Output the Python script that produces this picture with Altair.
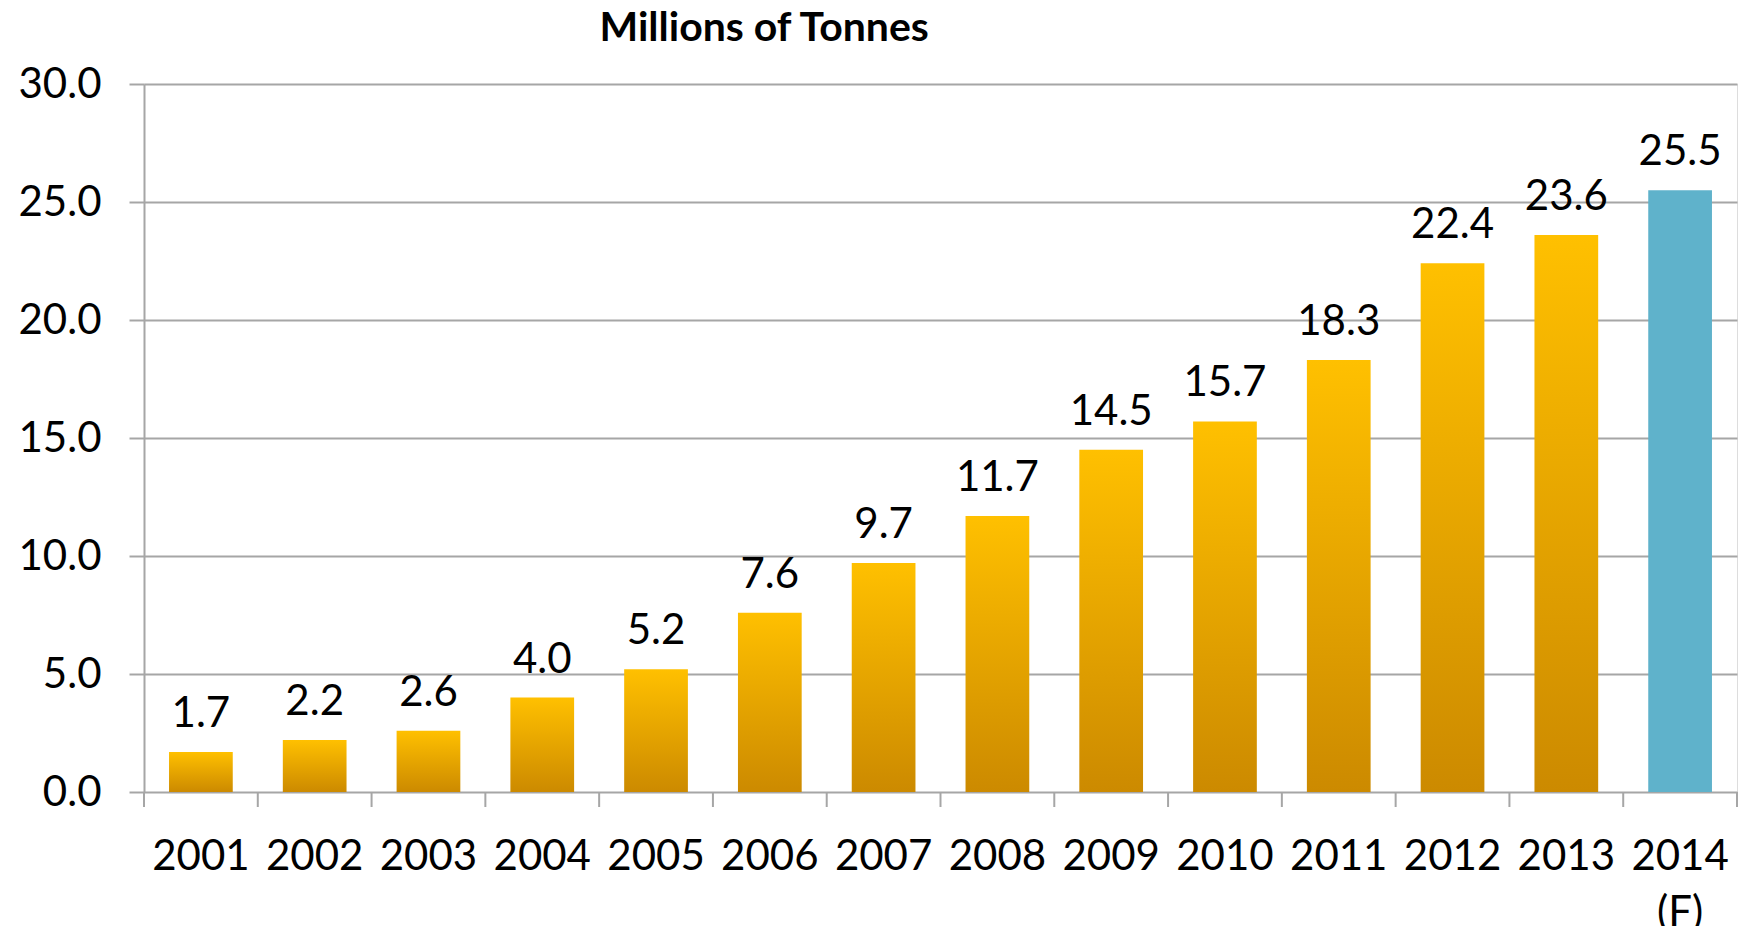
import altair as alt
import pandas as pd

years = ["2001", "2002", "2003", "2004", "2005", "2006", "2007",
         "2008", "2009", "2010", "2011", "2012", "2013", "2014"]
tick_labels = ["2001", "2002", "2003", "2004", "2005", "2006", "2007",
               "2008", "2009", "2010", "2011", "2012", "2013", "2014\n(F)"]
values = [1.7, 2.2, 2.6, 4.0, 5.2, 7.6, 9.7, 11.7, 14.5, 15.7, 18.3, 22.4, 23.6, 25.5]
forecast = [False] * 13 + [True]
y_ticks = [0, 5, 10, 15, 20, 25, 30]
title_text = "Millions of Tonnes"

df = pd.DataFrame({"year": tick_labels, "value": values, "forecast": forecast})
bounds = pd.DataFrame({"b": list(range(len(years) + 1))})

FONT = "Lato"
W, H = 1593, 708
GRID = "#A6A6A6"

gold = alt.Gradient(
    gradient="linear",
    stops=[alt.GradientStop(color="#FFC000", offset=0),
           alt.GradientStop(color="#CC8A00", offset=1)],
    x1=0, x2=0, y1=0, y2=1,
)

x_enc = alt.X(
    "year:N", sort=tick_labels, title=None,
    scale=alt.Scale(paddingInner=0.44, paddingOuter=0.22),
    axis=alt.Axis(labelExpr="split(datum.value, '\\n')", labelAngle=0,
                  labelFont=FONT, labelFontSize=42, labelColor="black",
                  labelPadding=44, labelLineHeight=56,
                  ticks=False, domain=False, grid=False),
)
y_enc = alt.Y(
    "value:Q", title=title_text,
    scale=alt.Scale(domain=[0, 30], nice=False),
    axis=alt.Axis(values=y_ticks, format=".1f", labelFont=FONT, labelFontSize=42,
                  labelColor="black", labelPadding=28, tickSize=15, tickColor=GRID,
                  tickWidth=2, domainColor=GRID, domainWidth=2,
                  grid=True, gridColor=GRID, gridWidth=2,
                  titleFont=FONT, titleFontSize=41, titleFontWeight="bold",
                  titleColor="black", titleAngle=0, titleAlign="left",
                  titleBaseline="alphabetic", titleX=455, titleY=-44),
)

base = alt.Chart(df)

bars_gold = base.transform_filter("!datum.forecast").mark_bar(color=gold).encode(x=x_enc, y=y_enc)
bars_fc = base.transform_filter("datum.forecast").mark_bar(color="#5FB2CB").encode(x=x_enc, y=y_enc)
labels = base.mark_text(font=FONT, fontSize=42, color="black", baseline="alphabetic", dy=-25).encode(
    x=x_enc, y=y_enc, text=alt.Text("value:Q", format=".1f"))

ticks = alt.Chart(bounds).mark_rule(color=GRID, strokeWidth=2).encode(
    x=alt.X("b:Q", scale=alt.Scale(domain=[0, len(years)], nice=False), axis=None),
    y=alt.value(H), y2=alt.value(H + 15),
)

main = alt.layer(bars_gold, bars_fc, labels)

chart = alt.layer(main, ticks).resolve_scale(x="independent").properties(
    width=W, height=H,
    autosize=alt.AutoSizeParams(type="none"),
    padding={"left": 136, "top": 76, "right": 2, "bottom": 134},
).configure_view(stroke=None).configure(background="white")

chart.save("out.html", embed_options={"renderer": "svg", "actions": False})
